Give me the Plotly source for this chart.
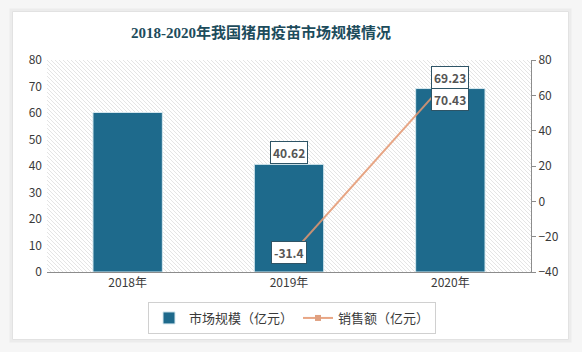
import base64
import plotly.graph_objects as go

years = ["2018年", "2019年", "2020年"]
market_size = [60.2, 40.62, 69.23]          # 市场规模（亿元）
bar_labels = [None, "40.62", "69.23"]
sales_years = ["2019年", "2020年"]
sales = [-31.4, 70.43]                        # 销售额（亿元）

BAR_COLOR = "#1e6a8c"
LINE_COLOR = "rgba(228,150,112,0.85)"
TEXT = "#3a3a3a"
FONT = "Noto Sans CJK SC"

W, H = 583, 352
ML, MR, MT, MB = 47, 52, 60, 80
PW, PH = W - ML - MR, H - MT - MB

fig = go.Figure()
fig.add_trace(go.Bar(
    x=years, y=market_size, name="市场规模（亿元）",
    marker=dict(color=BAR_COLOR, line=dict(color="#d6e8ef", width=1)),
    width=0.43, hoverinfo="x+y",
))
fig.add_trace(go.Scatter(
    x=sales_years, y=sales, name="销售额（亿元）", yaxis="y2",
    mode="lines+markers",
    line=dict(color=LINE_COLOR, width=2),
    marker=dict(symbol="square", size=6, color="#e0a080"),
))

# data labels
annotations = []
for x, v, t in zip(years, market_size, bar_labels):
    if t:
        annotations.append(dict(x=x, y=v, xref="x", yref="y", text=f"<b>{t}</b>", showarrow=False,
                                yanchor="bottom", bgcolor="white", bordercolor="#2e5466",
                                borderwidth=1, borderpad=2,
                                font=dict(family=FONT, size=12, color="#555555")))
line_shift = [4, -11]
line_anchor = ["middle", "top"]
for x, v, s, a in zip(sales_years, sales, line_shift, line_anchor):
    annotations.append(dict(x=x, y=v, xref="x", yref="y2", text=f"<b>{v:g}</b>", showarrow=False,
                            yanchor=a, yshift=s, bgcolor="white", bordercolor="#2e5466",
                            borderwidth=1, borderpad=2,
                            font=dict(family=FONT, size=12, color="#555555")))

# title
annotations.append(dict(x=(261 - ML) / PW, y=1 + (MT - 32) / PH, xref="paper", yref="paper",
                        text="<b>2018-2020年我国猪用疫苗市场规模情况</b>", showarrow=False,
                        xanchor="center", yanchor="middle",
                        font=dict(family="Liberation Serif, " + FONT, size=15, color="#1d4c5c")))

# hatch background
svg = (f'<svg xmlns="http://www.w3.org/2000/svg" width="{PW}" height="{PH}">'
       '<defs><pattern id="p" patternUnits="userSpaceOnUse" width="4" height="4">'
       '<rect width="4" height="4" fill="white"/>'
       '<path d="M-1,-1 L5,5 M-1,3 L1,5 M3,-1 L5,1" stroke="#dadada" stroke-width="0.7"/>'
       '</pattern></defs>'
       f'<rect width="{PW}" height="{PH}" fill="url(#p)"/></svg>')
src = "data:image/svg+xml;base64," + base64.b64encode(svg.encode()).decode()

def px(xp):
    return (xp - ML) / PW

def py(yp):
    return (H - MB - yp) / PH

# card shadow / outer background as outlines around a white card
shapes = [
    dict(type="rect", xref="paper", yref="paper", x0=px(5), x1=px(576), y0=py(347), y1=py(5),
         fillcolor="rgba(0,0,0,0)", line=dict(color="#f6f6f6", width=12), layer="below"),
    dict(type="rect", xref="paper", yref="paper", x0=px(11), x1=px(570), y0=py(341), y1=py(10),
         fillcolor="rgba(0,0,0,0)", line=dict(color="#ececec", width=3), layer="below"),
    dict(type="rect", xref="paper", yref="paper", x0=px(12.5), x1=px(568.5), y0=py(339.5), y1=py(11.5),
         fillcolor="rgba(0,0,0,0)", line=dict(color="#e2e2e2", width=1), layer="below"),
]

fig.update_layout(
    width=W, height=H,
    margin=dict(l=ML, r=MR, t=MT, b=MB),
    paper_bgcolor="white", plot_bgcolor="rgba(0,0,0,0)",
    font=dict(family=FONT, size=12, color=TEXT),
    showlegend=True,
    legend=dict(orientation="h", x=px(292), y=py(318), xanchor="center", yanchor="middle",
                bordercolor="#d0d0d0", borderwidth=1, bgcolor="white",
                font=dict(family=FONT, size=13, color=TEXT), itemwidth=30,
                tracegroupgap=0),
    xaxis=dict(showgrid=False, showline=True, linecolor="#8c8c8c", linewidth=1,
               ticks="", tickfont=dict(size=12, color=TEXT), zeroline=False),
    yaxis=dict(range=[0, 80], dtick=10, showgrid=False, showline=False, zeroline=False,
               ticks="", tickfont=dict(size=12, color=TEXT), ticklabelstandoff=4),
    yaxis2=dict(range=[-40, 80], dtick=20, overlaying="y", side="right", showgrid=False,
                showline=True, linecolor="#8c8c8c", linewidth=1, zeroline=False,
                ticks="outside", ticklen=4, tickcolor="#8c8c8c",
                tickfont=dict(size=12, color=TEXT)),
    bargap=0.57,
    annotations=annotations,
    shapes=shapes,
    images=[dict(source=src, xref="paper", yref="paper", x=0, y=1, sizex=1, sizey=1,
                 sizing="stretch", layer="below", xanchor="left", yanchor="top")],
)

fig.write_html("out.html")
